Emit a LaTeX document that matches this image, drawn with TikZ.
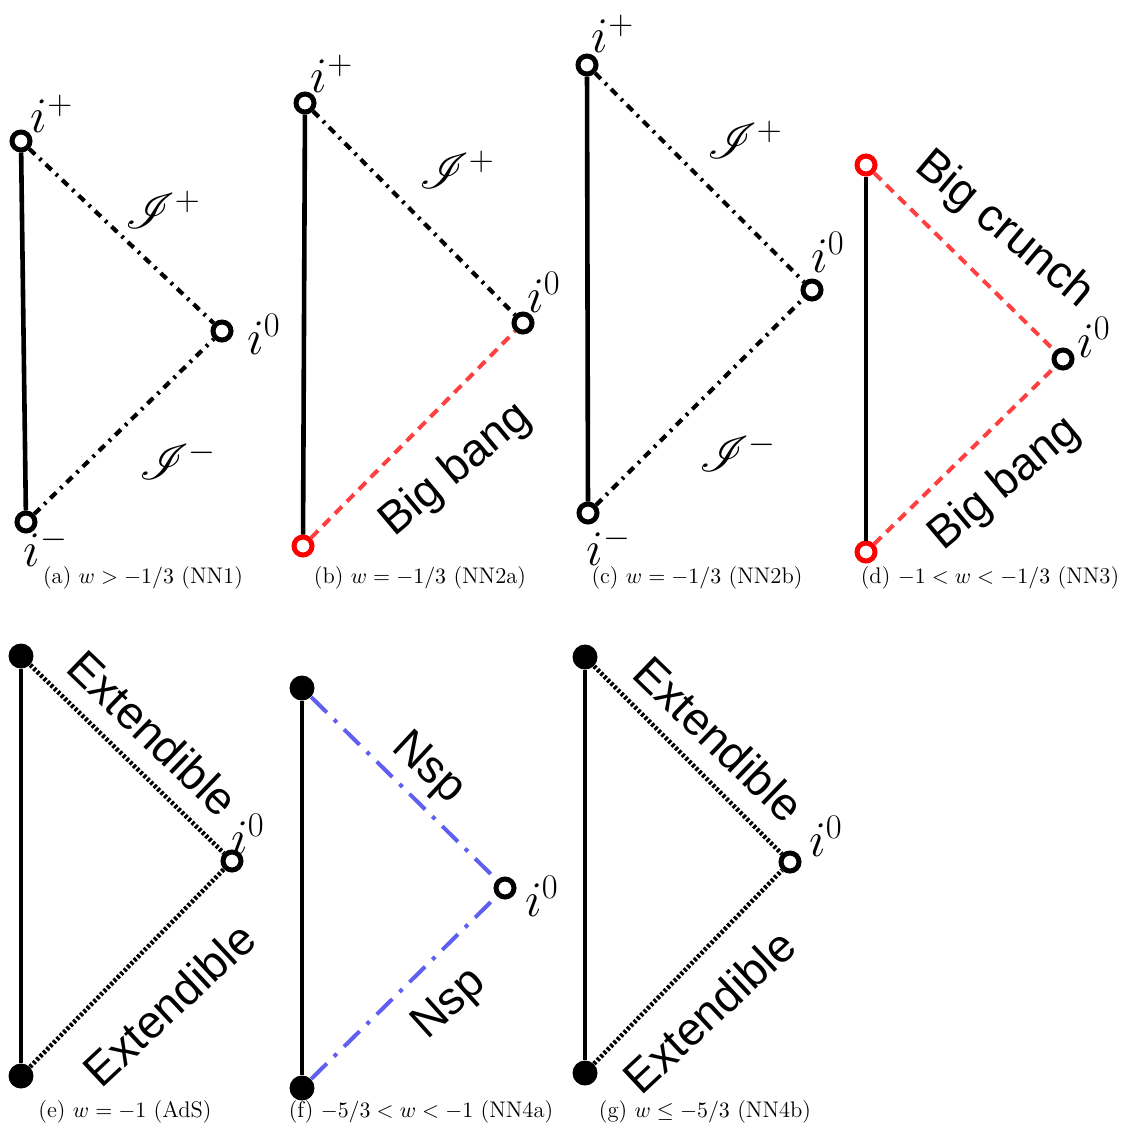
\documentclass[tikz,border=0pt]{standalone}
\usepackage{fontspec}
\usepackage{amsmath}
\usepackage{mathrsfs}
\newfontfamily\labelfont{Liberation Sans}
\definecolor{bigred}{RGB}{255,0,0}
\definecolor{dashred}{RGB}{255,64,64}
\definecolor{nspblue}{RGB}{96,96,240}
\begin{document}
\begin{tikzpicture}[x=0.5pt,y=-0.5pt,
  hollow/.style={circle, draw=black, line width=2.5pt, fill=white, inner sep=0pt, minimum size=9pt},
  redhollow/.style={hollow, draw=bigred},
  filled/.style={circle, fill=black, inner sep=0pt, minimum size=12.5pt},
  wall/.style={line width=2.3pt, line cap=butt},
  scri/.style={line width=2.1pt, dash pattern=on 4pt off 3pt on 1.3pt off 3pt},
  reddash/.style={line width=2pt, color=dashred, dash pattern=on 5pt off 3.5pt},
  extdot/.style={line width=2.3pt, dash pattern=on 1.4pt off 1pt},
  nspline/.style={line width=2pt, color=nspblue, dash pattern=on 11pt off 5pt on 2pt off 5pt},
  ilab/.style={inner sep=0pt, font=\fontsize{27}{31}\selectfont},
  slab/.style={inner sep=0pt, font=\fontsize{23}{27}\selectfont},
  word/.style={inner sep=0pt, font=\labelfont\fontsize{23}{27}\selectfont},
  captext/.style={inner sep=0pt, font=\fontsize{11.3}{13}\selectfont}
]
\useasboundingbox (0,0) rectangle (1127,1131);

% ---------- (a) ----------
\node[hollow] (aP) at (21,141) {};
\node[hollow] (aM) at (26,522) {};
\node[hollow] (a0) at (222,331) {};
\draw[wall] (aP) -- (aM);
\draw[scri] (aP) -- (a0);
\draw[scri] (aM) -- (a0);
\node[ilab] (aPl) at (52,114) {$i^+$};
\node[ilab] (a0l) at (264,334) {$i^0$};
\node[ilab] (aMl) at (46,547) {$i^-$};
\node[slab] (aSP) at (163,210) {$\mathscr{I}^+$};
\node[slab] (aSM) at (178,460) {$\mathscr{I}^-$};
\node[captext] (acap) at (143,578) {(a) $w>-1/3$ (NN1)};

% ---------- (b) ----------
\node[hollow] (bP) at (305,103) {};
\node[redhollow] (bB) at (303,546) {};
\node[hollow] (b0) at (523,323) {};
\draw[wall] (bP) -- (bB);
\draw[scri] (bP) -- (b0);
\draw[reddash] (bB) -- (b0);
\node[ilab] (bPl) at (332,74) {$i^+$};
\node[ilab] (b0l) at (544,292) {$i^0$};
\node[slab] (bSP) at (457,170) {$\mathscr{I}^+$};
\node[word, rotate=40] (bBB) at (456,470) {Big bang};
\node[captext] (bcap) at (420,578) {(b) $w=-1/3$ (NN2a)};

% ---------- (c) ----------
\node[hollow] (cP) at (587,65) {};
\node[hollow] (cM) at (588,513) {};
\node[hollow] (c0) at (812,290) {};
\draw[wall] (cP) -- (cM);
\draw[scri] (cP) -- (c0);
\draw[scri] (cM) -- (c0);
\node[ilab] (cPl) at (613,34) {$i^+$};
\node[ilab] (c0l) at (828,252) {$i^0$};
\node[ilab] (cMl) at (609,546) {$i^-$};
\node[slab] (cSP) at (745,140) {$\mathscr{I}^+$};
\node[slab] (cSM) at (738,452) {$\mathscr{I}^-$};
\node[captext] (ccap) at (697,578) {(c) $w=-1/3$ (NN2b)};

% ---------- (d) ----------
\node[redhollow] (dT) at (866,165) {};
\node[redhollow] (dB) at (866,552) {};
\node[hollow] (d0) at (1063,359) {};
\draw[wall] (dT) -- (dB);
\draw[reddash] (dT) -- (d0);
\draw[reddash] (dB) -- (d0);
\node[ilab] (d0l) at (1094,337) {$i^0$};
\node[word, rotate=-40] (dBC) at (1004,230) {Big crunch};
\node[word, rotate=40] (dBB) at (1005,484) {Big bang};
\node[captext] (dcap) at (990,578) {(d) $-1<w<-1/3$ (NN3)};

% ---------- (e) ----------
\node[filled] (eT) at (21,656) {};
\node[filled] (eB) at (21,1076) {};
\node[hollow] (e0) at (232,861) {};
\draw[wall] (eT) -- (eB);
\draw[extdot] (eT) -- (e0);
\draw[extdot] (eB) -- (e0);
\node[ilab] (e0l) at (248,834) {$i^0$};
\node[word, rotate=-44] (eEU) at (153,733) {Extendible};
\node[word, rotate=43] (eEL) at (169,1004) {Extendible};
\node[captext] (ecap) at (125,1112) {(e) $w=-1$ (AdS)};

% ---------- (f) ----------
\node[filled] (fT) at (302,688) {};
\node[filled] (fB) at (302,1088) {};
\node[hollow] (f0) at (505,888) {};
\draw[wall] (fT) -- (fB);
\draw[nspline] (fT) -- (f0);
\draw[nspline] (fB) -- (f0);
\node[ilab] (f0l) at (542,896) {$i^0$};
\node[word, rotate=-43] (fNU) at (428,769) {Nsp};
\node[word, rotate=42] (fNL) at (450,1005) {Nsp};
\node[captext] (fcap) at (421,1112) {(f) $-5/3<w<-1$ (NN4a)};

% ---------- (g) ----------
\node[filled] (gT) at (585,657) {};
\node[filled] (gB) at (585,1073) {};
\node[hollow] (g0) at (790,862) {};
\draw[wall] (gT) -- (gB);
\draw[extdot] (gT) -- (g0);
\draw[extdot] (gB) -- (g0);
\node[ilab] (g0l) at (826,836) {$i^0$};
\node[word, rotate=-44] (gEU) at (719,739) {Extendible};
\node[word, rotate=43] (gEL) at (709,1011) {Extendible};
\node[captext] (gcap) at (705,1112) {(g) $w\le-5/3$ (NN4b)};
\end{tikzpicture}
\end{document}
